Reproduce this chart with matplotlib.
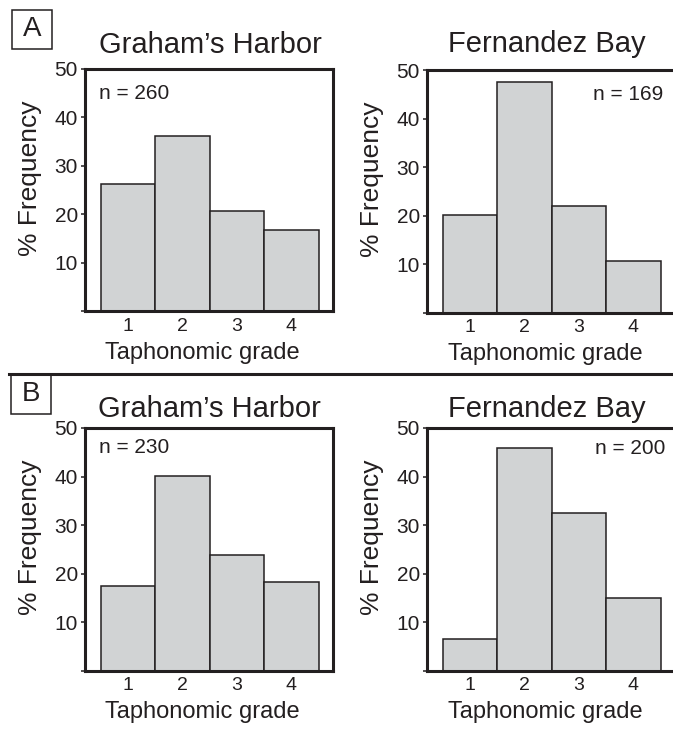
import matplotlib
matplotlib.use("Agg")
import matplotlib.pyplot as plt
from matplotlib.patches import Rectangle

plt.rcParams['font.family'] = ['Liberation Sans', 'DejaVu Sans']

# data (percent frequency per taphonomic grade)
grades = [1, 2, 3, 4]
grade_labels = ['1', '2', '3', '4']
a_graham = [26.2, 36.2, 20.8, 16.9]
a_fernandez = [20.2, 47.5, 22.0, 10.7]
b_graham = [17.5, 40.2, 23.9, 18.2]
b_fernandez = [6.5, 45.9, 32.5, 15.0]
n_values = ['n = 260', 'n = 169', 'n = 230', 'n = 200']
sites = ["Graham\u2019s Harbor", "Fernandez Bay"]
y_ticks = [0, 10, 20, 30, 40, 50]
y_tick_labels = ['', '10', '20', '30', '40', '50']

ink = '#231f20'
fill = '#d1d3d4'

fig = plt.figure(figsize=(6.73, 7.30), dpi=100)

# axes boxes in figure fractions: left, bottom, width, height
boxes = [
    [0.1263, 0.5733, 0.3685, 0.3322],
    [0.6345, 0.5719, 0.3685, 0.3322],
    [0.1263, 0.0815, 0.3685, 0.3322],
    [0.6345, 0.0815, 0.3685, 0.3322],
]
panel_data = [a_graham, a_fernandez, b_graham, b_fernandez]
title_pos = [(0.504, 1.066), (0.484, 1.074), (0.5, 1.047), (0.484, 1.047)]
n_pos = [(0.056, 0.897, 'left'), (0.953, 0.897, 'right'),
         (0.056, 0.919, 'left'), (0.96, 0.916, 'right')]

for i, (box, vals) in enumerate(zip(boxes, panel_data)):
    ax = fig.add_axes(box)
    ax.bar(grades, vals, width=1.0, color=fill, edgecolor=ink, linewidth=1.1)
    ax.set_xlim(0.206, 4.765)
    ax.set_ylim(0, 50)
    ax.set_yticks(y_ticks)
    ax.set_yticklabels(y_tick_labels)
    ax.set_xticks(grades)
    ax.set_xticklabels(grade_labels)
    ax.tick_params(axis='y', direction='out', length=2.6, width=1.1,
                   color=ink, labelsize=15, labelcolor=ink, pad=2.5)
    ax.tick_params(axis='x', length=0, labelsize=14, labelcolor=ink, pad=5)
    for sp in ax.spines.values():
        sp.set_linewidth(2.2)
        sp.set_color(ink)
    if i % 2 == 1:
        ax.spines['right'].set_visible(False)

    ax.set_ylabel('% Frequency', fontsize=19, color=ink)
    ax.yaxis.set_label_coords(-0.175, 0.55)
    ax.set_xlabel('Taphonomic grade', fontsize=17, color=ink)
    ax.xaxis.set_label_coords(0.475, -0.127)

    tx, ty = title_pos[i]
    ax.text(tx, ty, sites[i % 2], transform=ax.transAxes, ha='center',
            va='baseline', fontsize=21, color=ink, clip_on=False)
    nx, ny, nha = n_pos[i]
    ax.text(nx, ny, n_values[i], transform=ax.transAxes, ha=nha,
            va='center', fontsize=15, color=ink)

# panel letters in boxes
for letter, (bx, by) in [('A', (0.0178, 0.9329)), ('B', (0.0163, 0.4329))]:
    fig.patches.append(Rectangle((bx, by), 0.0594, 0.0534, transform=fig.transFigure,
                                 fill=False, edgecolor=ink, linewidth=1.1))
    fig.text(bx + 0.0297, by + 0.0267, letter, ha='center', va='center',
             fontsize=20, color=ink)

# divider between A and B
fig.add_artist(plt.Line2D([0.013, 1.0], [0.4877, 0.4877], color=ink,
                          linewidth=2.2, transform=fig.transFigure))

fig.savefig('out.png', dpi=100)
